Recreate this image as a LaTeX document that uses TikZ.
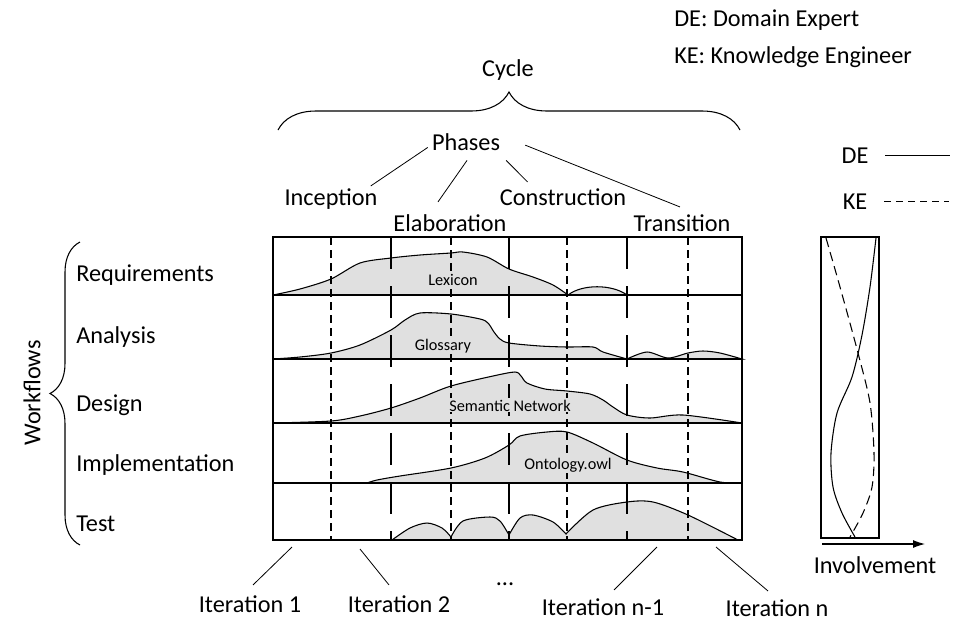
\documentclass[tikz,border=0pt]{standalone}
\usepackage{fontspec}
\setmainfont{Carlito}
\usetikzlibrary{decorations.pathreplacing,arrows.meta}
\definecolor{artgray}{RGB}{224,224,224}
\tikzset{
  txt/.style={font=\fontsize{18.2}{22}\selectfont, inner sep=1.5pt, anchor=base},
  art/.style={font=\fontsize{12.2}{14}\selectfont, inner sep=1pt, anchor=base, fill=artgray},
  ray/.style={line width=0.6pt},
  hump/.style={draw, fill=artgray, line width=0.8pt},
  iterline/.style={line width=0.8pt, dash pattern=on 6pt off 3.75pt},
  phaseline/.style={line width=1.6pt, dash pattern=on 24pt off 12.75pt},
  grid line/.style={line width=1.1pt},
  curly/.style={decorate, line width=0.8pt}
}
\begin{document}
\begin{tikzpicture}[x=0.75pt,y=-0.75pt]
\useasboundingbox (0,0) rectangle (953,622);
\draw[hump] plot[smooth] coordinates {(273,295) (300,289) (331,279) (360,263) (391,258) (420,255) (451,253) (463,252) (487,257) (509,269) (533,277) (553,285) (568,295)} -- cycle;
\draw[hump] (568,295) .. controls (582,284) and (612,284) .. (627,295) -- cycle;
\draw[hump] plot[smooth] coordinates {(273,359) (300,357) (331,353) (360,345) (391,330) (405,320) (420,313) (451,314) (480,319) (488,323) (494,332) (500,339) (509,343) (540,346) (567,347) (593,347) (603,352) (627,359)} -- plot[smooth] coordinates {(627,359) (647,352) (668,358) (688,353) (703,351) (720,353) (742,359)} -- cycle;
\draw[hump] plot[smooth] coordinates {(273,423) (331,421) (360,416) (391,408) (420,398) (451,386) (493,376) (515,372) (521,376) (527,383) (545,389) (567,391) (590,394) (603,400) (613,407) (627,415) (650,418) (683,415) (742,423)} -- cycle;
\draw[hump] plot[smooth] coordinates {(367,483) (377,480) (400,476) (451,468) (485,458) (509,445) (520,436) (547,432) (567,432) (593,443) (627,460) (657,468) (683,472) (720,482) (742,483)} -- cycle;
\draw[hump] plot[smooth] coordinates {(392,540) (410,528) (427,523) (442,528) (451,537)} -- plot[smooth] coordinates {(451,537) (463,521) (490,517) (500,521) (509,535)} -- plot[smooth] coordinates {(509,535) (520,518) (533,515) (553,522) (566,534)} -- plot[smooth] coordinates {(566,534) (593,510) (627,502) (653,502) (688,515) (738,540)} -- cycle;
\foreach \x in {331,451,567,688}
\draw[iterline] (\x,237) -- (\x,540);
\foreach \x in {391,509,627}
\draw[phaseline] (\x,237) -- (\x,540);
\node[art] (lexicon) at (453,285) {Lexicon};
\node[art] (glossary) at (443,350) {Glossary};
\node[art] (semnet) at (510,411) {Semantic Network};
\node[art] (owl) at (568,469) {Ontology.owl};
\draw[grid line] (273,237) rectangle (742,540);
\foreach \y in {295,359,423,483}
\draw[grid line] (273,\y) -- (742,\y);
\node[txt, anchor=base west] (req) at (74,281) {Requirements};
\node[txt, anchor=base west] (ana) at (74,343) {Analysis};
\node[txt, anchor=base west] (des) at (74,411) {Design};
\node[txt, anchor=base west] (impl) at (74,471) {Implementation};
\node[txt, anchor=base west] (test) at (74,531) {Test};
\node[txt, rotate=90, anchor=center] (workflows) at (32,393) {Workflows};
\draw[curly, decoration={brace, amplitude=22.5pt}] (80,545) -- (80,242);
\node[txt] (cycle) at (508,76) {Cycle};
\draw[curly, decoration={brace, amplitude=28.5pt}] (278,130) -- (740,130);
\node[txt] (phases) at (466,150) {Phases};
\node[txt] (inception) at (331,205) {Inception};
\node[txt] (elaboration) at (450,231) {Elaboration};
\node[txt] (construction) at (563,205) {Construction};
\node[txt] (transition) at (682,231) {Transition};
\draw[ray] ([shift={(-2,-5)}]phases.south west) -- ([shift={(-9,0)}]inception.north east);
\draw[ray] ([shift={(1,8)}]phases.south) -- ([shift={(-12,-10)}]elaboration.north);
\draw[ray] ([shift={(4,8)}]phases.south east) -- ([shift={(30,-4)}]construction.north west);
\draw[ray] ([shift={(23,3.5)}]phases.east) -- ([shift={(-2,-5)}]transition.north);
\node[txt, anchor=base west] (dedef) at (672,26) {DE: Domain Expert};
\node[txt, anchor=base west] (kedef) at (672,63) {KE: Knowledge Engineer};
\node[txt] (de) at (855,163) {DE};
\node[txt] (ke) at (855,209) {KE};
\draw[ray] ([shift={(14.6,0)}]de.east) -- ++(65,0);
\draw[ray, dash pattern=on 5.25pt off 3.75pt] ([shift={(14.6,0)}]ke.east) -- ++(65,0);
\draw[line width=0.8pt] (821,237) rectangle (879,538);
\draw[line width=0.8pt] plot[smooth] coordinates {(876,238) (870,287) (862,335) (852,377) (837,413) (831,453) (833,487) (842,513) (855,537)};
\draw[line width=0.8pt, dash pattern=on 7pt off 4pt] plot[smooth] coordinates {(826,238) (840,287) (858,353) (870,403) (874,453) (872,487) (863,513) (850,537)};
\node[txt] (involve) at (875,573) {Involvement};
\draw[line width=0.8pt, -{Latex[length=9pt,width=6pt]}] (822,544) -- (925,544);
\node[txt] (it1) at (250,612) {Iteration 1};
\node[txt] (it2) at (399,612) {Iteration 2};
\node[txt] (dots) at (505,585) {...};
\node[txt] (itn1) at (603,615) {Iteration n-1};
\node[txt] (itn) at (777,616) {Iteration n};
\coordinate (f1) at (292,547);
\coordinate (f2) at (360,549);
\coordinate (f3) at (657,547);
\coordinate (f4) at (716,547);
\draw[ray] (f1) -- ([shift={(3,-8)}]it1.north);
\draw[ray] (f2) -- ([shift={(-10,-8)}]it2.north);
\draw[ray] (f3) -- ([shift={(11,-6)}]itn1.north);
\draw[ray] (f4) -- ([shift={(-9,-6)}]itn.north);
\end{tikzpicture}
\end{document}
